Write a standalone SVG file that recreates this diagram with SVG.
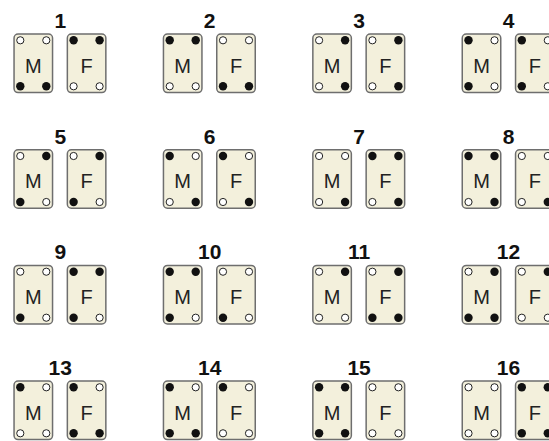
<svg xmlns="http://www.w3.org/2000/svg" xmlns:xlink="http://www.w3.org/1999/xlink" width="549" height="441" viewBox="0 0 549 441">
<style>
.card{fill:#f3f0dc;stroke:#6e6e6e;stroke-width:1.5}
.on{fill:#111}
.off{fill:#fff;stroke:#222;stroke-width:1}
.let{font-family:"Liberation Sans",Arial,sans-serif;font-size:20px;fill:#222;text-anchor:middle}
.num{font-family:"Liberation Sans",Arial,sans-serif;font-size:21px;font-weight:bold;fill:#111;text-anchor:middle}
</style>
<defs>
<rect id="body" class="card" x="0.75" y="0.75" width="38.5" height="58.5" rx="4"/>
<circle id="d1" class="on" r="4.2"/>
<circle id="d0" class="off" r="3.6"/>
</defs>
<rect width="549" height="441" fill="#fff"/>
<g id="p1" transform="translate(13.3,33.3)">
<text class="num" x="47" y="-5.3">1</text>
<g id="p1-M"><use xlink:href="#body"/><use xlink:href="#d0" x="7" y="7"/><use xlink:href="#d0" x="33" y="7"/><use xlink:href="#d1" x="7" y="53"/><use xlink:href="#d1" x="33" y="53"/><text class="let" x="20" y="39.4">M</text></g>
<g id="p1-F" transform="translate(53.3,0)"><use xlink:href="#body"/><use xlink:href="#d1" x="7" y="7"/><use xlink:href="#d1" x="33" y="7"/><use xlink:href="#d0" x="7" y="53"/><use xlink:href="#d0" x="33" y="53"/><text class="let" x="20" y="39.4">F</text></g>
</g>
<g id="p2" transform="translate(162.7,33.3)">
<text class="num" x="47" y="-5.3">2</text>
<g id="p2-M"><use xlink:href="#body"/><use xlink:href="#d1" x="7" y="7"/><use xlink:href="#d1" x="33" y="7"/><use xlink:href="#d0" x="7" y="53"/><use xlink:href="#d0" x="33" y="53"/><text class="let" x="20" y="39.4">M</text></g>
<g id="p2-F" transform="translate(53.3,0)"><use xlink:href="#body"/><use xlink:href="#d0" x="7" y="7"/><use xlink:href="#d0" x="33" y="7"/><use xlink:href="#d1" x="7" y="53"/><use xlink:href="#d1" x="33" y="53"/><text class="let" x="20" y="39.4">F</text></g>
</g>
<g id="p3" transform="translate(312.1,33.3)">
<text class="num" x="47" y="-5.3">3</text>
<g id="p3-M"><use xlink:href="#body"/><use xlink:href="#d0" x="7" y="7"/><use xlink:href="#d1" x="33" y="7"/><use xlink:href="#d0" x="7" y="53"/><use xlink:href="#d1" x="33" y="53"/><text class="let" x="20" y="39.4">M</text></g>
<g id="p3-F" transform="translate(53.3,0)"><use xlink:href="#body"/><use xlink:href="#d0" x="7" y="7"/><use xlink:href="#d1" x="33" y="7"/><use xlink:href="#d0" x="7" y="53"/><use xlink:href="#d1" x="33" y="53"/><text class="let" x="20" y="39.4">F</text></g>
</g>
<g id="p4" transform="translate(461.5,33.3)">
<text class="num" x="47" y="-5.3">4</text>
<g id="p4-M"><use xlink:href="#body"/><use xlink:href="#d1" x="7" y="7"/><use xlink:href="#d0" x="33" y="7"/><use xlink:href="#d1" x="7" y="53"/><use xlink:href="#d0" x="33" y="53"/><text class="let" x="20" y="39.4">M</text></g>
<g id="p4-F" transform="translate(53.3,0)"><use xlink:href="#body"/><use xlink:href="#d1" x="7" y="7"/><use xlink:href="#d0" x="33" y="7"/><use xlink:href="#d1" x="7" y="53"/><use xlink:href="#d0" x="33" y="53"/><text class="let" x="20" y="39.4">F</text></g>
</g>
<g id="p5" transform="translate(13.3,149)">
<text class="num" x="47" y="-5.3">5</text>
<g id="p5-M"><use xlink:href="#body"/><use xlink:href="#d0" x="7" y="7"/><use xlink:href="#d1" x="33" y="7"/><use xlink:href="#d1" x="7" y="53"/><use xlink:href="#d0" x="33" y="53"/><text class="let" x="20" y="39.4">M</text></g>
<g id="p5-F" transform="translate(53.3,0)"><use xlink:href="#body"/><use xlink:href="#d0" x="7" y="7"/><use xlink:href="#d1" x="33" y="7"/><use xlink:href="#d1" x="7" y="53"/><use xlink:href="#d0" x="33" y="53"/><text class="let" x="20" y="39.4">F</text></g>
</g>
<g id="p6" transform="translate(162.7,149)">
<text class="num" x="47" y="-5.3">6</text>
<g id="p6-M"><use xlink:href="#body"/><use xlink:href="#d1" x="7" y="7"/><use xlink:href="#d0" x="33" y="7"/><use xlink:href="#d0" x="7" y="53"/><use xlink:href="#d1" x="33" y="53"/><text class="let" x="20" y="39.4">M</text></g>
<g id="p6-F" transform="translate(53.3,0)"><use xlink:href="#body"/><use xlink:href="#d1" x="7" y="7"/><use xlink:href="#d0" x="33" y="7"/><use xlink:href="#d0" x="7" y="53"/><use xlink:href="#d1" x="33" y="53"/><text class="let" x="20" y="39.4">F</text></g>
</g>
<g id="p7" transform="translate(312.1,149)">
<text class="num" x="47" y="-5.3">7</text>
<g id="p7-M"><use xlink:href="#body"/><use xlink:href="#d0" x="7" y="7"/><use xlink:href="#d0" x="33" y="7"/><use xlink:href="#d0" x="7" y="53"/><use xlink:href="#d1" x="33" y="53"/><text class="let" x="20" y="39.4">M</text></g>
<g id="p7-F" transform="translate(53.3,0)"><use xlink:href="#body"/><use xlink:href="#d1" x="7" y="7"/><use xlink:href="#d1" x="33" y="7"/><use xlink:href="#d0" x="7" y="53"/><use xlink:href="#d1" x="33" y="53"/><text class="let" x="20" y="39.4">F</text></g>
</g>
<g id="p8" transform="translate(461.5,149)">
<text class="num" x="47" y="-5.3">8</text>
<g id="p8-M"><use xlink:href="#body"/><use xlink:href="#d1" x="7" y="7"/><use xlink:href="#d1" x="33" y="7"/><use xlink:href="#d0" x="7" y="53"/><use xlink:href="#d1" x="33" y="53"/><text class="let" x="20" y="39.4">M</text></g>
<g id="p8-F" transform="translate(53.3,0)"><use xlink:href="#body"/><use xlink:href="#d0" x="7" y="7"/><use xlink:href="#d0" x="33" y="7"/><use xlink:href="#d0" x="7" y="53"/><use xlink:href="#d1" x="33" y="53"/><text class="let" x="20" y="39.4">F</text></g>
</g>
<g id="p9" transform="translate(13.3,264.7)">
<text class="num" x="47" y="-5.3">9</text>
<g id="p9-M"><use xlink:href="#body"/><use xlink:href="#d0" x="7" y="7"/><use xlink:href="#d0" x="33" y="7"/><use xlink:href="#d1" x="7" y="53"/><use xlink:href="#d0" x="33" y="53"/><text class="let" x="20" y="39.4">M</text></g>
<g id="p9-F" transform="translate(53.3,0)"><use xlink:href="#body"/><use xlink:href="#d1" x="7" y="7"/><use xlink:href="#d1" x="33" y="7"/><use xlink:href="#d1" x="7" y="53"/><use xlink:href="#d0" x="33" y="53"/><text class="let" x="20" y="39.4">F</text></g>
</g>
<g id="p10" transform="translate(162.7,264.7)">
<text class="num" x="47" y="-5.3">10</text>
<g id="p10-M"><use xlink:href="#body"/><use xlink:href="#d1" x="7" y="7"/><use xlink:href="#d1" x="33" y="7"/><use xlink:href="#d1" x="7" y="53"/><use xlink:href="#d0" x="33" y="53"/><text class="let" x="20" y="39.4">M</text></g>
<g id="p10-F" transform="translate(53.3,0)"><use xlink:href="#body"/><use xlink:href="#d0" x="7" y="7"/><use xlink:href="#d0" x="33" y="7"/><use xlink:href="#d1" x="7" y="53"/><use xlink:href="#d0" x="33" y="53"/><text class="let" x="20" y="39.4">F</text></g>
</g>
<g id="p11" transform="translate(312.1,264.7)">
<text class="num" x="47" y="-5.3">11</text>
<g id="p11-M"><use xlink:href="#body"/><use xlink:href="#d0" x="7" y="7"/><use xlink:href="#d1" x="33" y="7"/><use xlink:href="#d0" x="7" y="53"/><use xlink:href="#d0" x="33" y="53"/><text class="let" x="20" y="39.4">M</text></g>
<g id="p11-F" transform="translate(53.3,0)"><use xlink:href="#body"/><use xlink:href="#d0" x="7" y="7"/><use xlink:href="#d1" x="33" y="7"/><use xlink:href="#d1" x="7" y="53"/><use xlink:href="#d1" x="33" y="53"/><text class="let" x="20" y="39.4">F</text></g>
</g>
<g id="p12" transform="translate(461.5,264.7)">
<text class="num" x="47" y="-5.3">12</text>
<g id="p12-M"><use xlink:href="#body"/><use xlink:href="#d0" x="7" y="7"/><use xlink:href="#d1" x="33" y="7"/><use xlink:href="#d1" x="7" y="53"/><use xlink:href="#d1" x="33" y="53"/><text class="let" x="20" y="39.4">M</text></g>
<g id="p12-F" transform="translate(53.3,0)"><use xlink:href="#body"/><use xlink:href="#d0" x="7" y="7"/><use xlink:href="#d1" x="33" y="7"/><use xlink:href="#d0" x="7" y="53"/><use xlink:href="#d0" x="33" y="53"/><text class="let" x="20" y="39.4">F</text></g>
</g>
<g id="p13" transform="translate(13.3,380.3)">
<text class="num" x="47" y="-5.3">13</text>
<g id="p13-M"><use xlink:href="#body"/><use xlink:href="#d1" x="7" y="7"/><use xlink:href="#d0" x="33" y="7"/><use xlink:href="#d0" x="7" y="53"/><use xlink:href="#d0" x="33" y="53"/><text class="let" x="20" y="39.4">M</text></g>
<g id="p13-F" transform="translate(53.3,0)"><use xlink:href="#body"/><use xlink:href="#d1" x="7" y="7"/><use xlink:href="#d0" x="33" y="7"/><use xlink:href="#d1" x="7" y="53"/><use xlink:href="#d1" x="33" y="53"/><text class="let" x="20" y="39.4">F</text></g>
</g>
<g id="p14" transform="translate(162.7,380.3)">
<text class="num" x="47" y="-5.3">14</text>
<g id="p14-M"><use xlink:href="#body"/><use xlink:href="#d1" x="7" y="7"/><use xlink:href="#d0" x="33" y="7"/><use xlink:href="#d1" x="7" y="53"/><use xlink:href="#d1" x="33" y="53"/><text class="let" x="20" y="39.4">M</text></g>
<g id="p14-F" transform="translate(53.3,0)"><use xlink:href="#body"/><use xlink:href="#d1" x="7" y="7"/><use xlink:href="#d0" x="33" y="7"/><use xlink:href="#d0" x="7" y="53"/><use xlink:href="#d0" x="33" y="53"/><text class="let" x="20" y="39.4">F</text></g>
</g>
<g id="p15" transform="translate(312.1,380.3)">
<text class="num" x="47" y="-5.3">15</text>
<g id="p15-M"><use xlink:href="#body"/><use xlink:href="#d1" x="7" y="7"/><use xlink:href="#d1" x="33" y="7"/><use xlink:href="#d1" x="7" y="53"/><use xlink:href="#d1" x="33" y="53"/><text class="let" x="20" y="39.4">M</text></g>
<g id="p15-F" transform="translate(53.3,0)"><use xlink:href="#body"/><use xlink:href="#d0" x="7" y="7"/><use xlink:href="#d0" x="33" y="7"/><use xlink:href="#d0" x="7" y="53"/><use xlink:href="#d0" x="33" y="53"/><text class="let" x="20" y="39.4">F</text></g>
</g>
<g id="p16" transform="translate(461.5,380.3)">
<text class="num" x="47" y="-5.3">16</text>
<g id="p16-M"><use xlink:href="#body"/><use xlink:href="#d0" x="7" y="7"/><use xlink:href="#d0" x="33" y="7"/><use xlink:href="#d0" x="7" y="53"/><use xlink:href="#d0" x="33" y="53"/><text class="let" x="20" y="39.4">M</text></g>
<g id="p16-F" transform="translate(53.3,0)"><use xlink:href="#body"/><use xlink:href="#d1" x="7" y="7"/><use xlink:href="#d1" x="33" y="7"/><use xlink:href="#d1" x="7" y="53"/><use xlink:href="#d1" x="33" y="53"/><text class="let" x="20" y="39.4">F</text></g>
</g>
<g id="connectors"/>
</svg>
